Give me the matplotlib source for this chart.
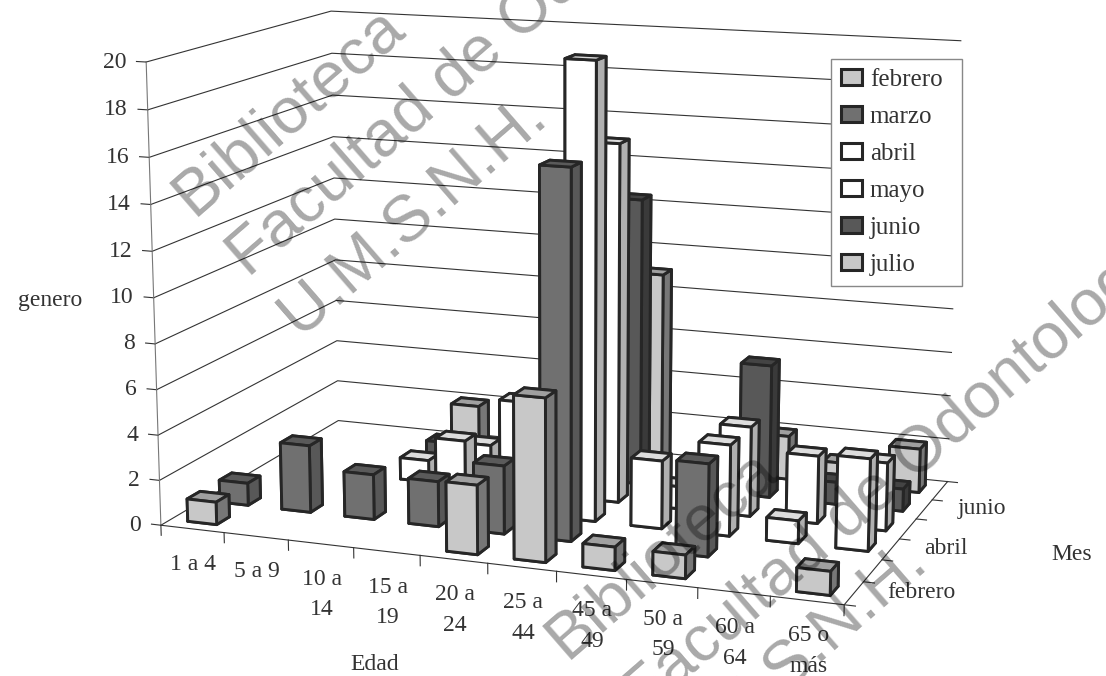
import numpy as np
import matplotlib
matplotlib.use('Agg')
import matplotlib.pyplot as plt
from matplotlib.patches import Patch
from mpl_toolkits.mplot3d import proj3d

edades = ['1 a 4', '5 a 9', '10 a\n14', '15 a\n19', '20 a\n24', '25 a\n44', '45 a\n49', '50 a\n59', '60 a\n64', '65 o\nmás']
meses = ['febrero', 'marzo', 'abril', 'mayo', 'junio', 'julio']
febrero = [1, 0, 0, 0, 3, 7, 1, 1, 0, 1]
marzo = [1, 3, 2, 2, 3, 16, 0, 4, 0, 0]
abril = [0, 0, 0, 3, 5, 20, 3, 4, 1, 4]
mayo = [0, 0, 1, 2, 0, 16, 1, 4, 3, 3]
junio = [0, 0, 1, 0, 0, 13, 0, 6, 1, 1]
julio = [0, 0, 2, 0, 0, 9, 0, 2, 1, 2]
series = [febrero, marzo, abril, mayo, junio, julio]
niveles = list(range(0, 21, 2))
# front, side, top
tonos = [('#c8c8c8', '#777777', '#a0a0a0'), ('#707070', '#585858', '#5a5a5a'), ('#ffffff', '#b0b0b0', '#dddddd'),
         ('#ffffff', '#b0b0b0', '#dddddd'), ('#585858', '#3a3a3a', '#444444'), ('#c8c8c8', '#777777', '#a0a0a0')]

W, H = 1106, 676
tinta = '#333333'
plt.rcParams['font.family'] = 'Liberation Serif'
plt.rcParams['font.size'] = 17
plt.rcParams['text.color'] = tinta

fig = plt.figure(figsize=(W / 100, H / 100), dpi=100)
ax = fig.add_axes([97.46 / W, -71.73 / H, 909.07 / W, 909.07 / H], projection='3d')
ax.set_xlim(0, 10, view_margin=0)
ax.set_ylim(0, 6, view_margin=0)
ax.set_zlim(0, 20, view_margin=0)
ax.view_init(12.458, -69.732)
ax.set_proj_type('persp', focal_length=0.582)
ax.set_box_aspect((1, 0.602, 0.663))
ax.set_axis_off()
ax.computed_zorder = False
M = ax.get_proj()


def rotulo(s, x, y, z, dx, dy, **kw):
    # text anchored on a 3d point, shifted by a few pixels
    px, py, _ = proj3d.proj_transform(x, y, z, M)
    ax.annotate(s, (px, py), xycoords='data', xytext=(dx, dy), textcoords='offset pixels', annotation_clip=False, **kw)


# walls and floor
for z in niveles:
    ax.plot([0, 0, 10], [0, 6, 6], [z, z, z], color=tinta, lw=0.8, zorder=1)
    ax.plot([-0.15, 0], [0, 0], [z, z], color=tinta, lw=0.8, zorder=1)
    rotulo(str(z), 0, 0, z, -20, 0, ha='right', va='center')
ax.plot([0, 0], [0, 0], [0, 20], color='#777777', lw=0.8, zorder=1)
ax.plot([0, 10, 10], [0, 0, 6], [0, 0, 0], color=tinta, lw=0.8, zorder=1)
for i in range(11):
    ax.plot([i, i], [0, 0], [0, -0.45], color=tinta, lw=0.8, zorder=1)
for j in range(7):
    ax.plot([10, 10.15], [j, j], [0, 0], color=tinta, lw=0.8, zorder=1)

for i, e in enumerate(edades):
    rotulo(e, i + 0.5, 0, 0, 1, -25, ha='center', va='top', linespacing=1.6)
for j in (0, 2, 4):
    rotulo(meses[j], 10, j + 0.5, 0, 33, 1, ha='left', va='center')

# bars go back to front, left to right
orden = 2
for j in range(5, -1, -1):
    fr, si, to = tonos[j]
    for i in range(10):
        v = series[j][i]
        if v == 0:
            continue
        # bottom, top, -y, +y, -x, +x
        col = ax.bar3d(i + 0.27, j + 0.3, 0, 0.46, 0.4, v, color=[si, to, fr, si, si, si], shade=False,
                       edgecolor='#262626', linewidth=2.1)
        col.set_zorder(orden)
        orden += 1

fig.text(375 / W, 1 - 665 / H, 'Edad', ha='center', va='center')
fig.text(1072 / W, 1 - 555 / H, 'Mes', ha='center', va='center')
fig.text(50 / W, 1 - 300 / H, 'genero', ha='center', va='center')

marcas = [Patch(facecolor=t[0], edgecolor='#262626', linewidth=2.2) for t in tonos]
fig.legend(marcas, meses, loc='upper left', bbox_to_anchor=(831 / W, 1 - 286 / H, 131 / W, 227 / H), mode='expand',
           borderaxespad=0, frameon=True, fancybox=False, framealpha=1, edgecolor='#888888', fontsize=18,
           labelspacing=0.6, handlelength=0.85, handleheight=0.6, handletextpad=0.3, borderpad=0.4)

# library stamp across the page
sello = dict(family='Liberation Sans', fontsize=47, color='black', alpha=0.34, rotation=41, rotation_mode='anchor',
             ha='left', va='baseline', zorder=10)
fig.text(193 / W, 1 - 217 / H, 'Biblioteca', **sello)
fig.text(248 / W, 1 - 278 / H, 'Facultad de Odontología', **sello)
fig.text(300 / W, 1 - 337 / H, 'U.M.S.N.H.', **sello)
fig.text(566 / W, 1 - 660 / H, 'Biblioteca', **sello)
fig.text(643 / W, 1 - 717 / H, 'Facultad de Odontología', **sello)
fig.text(680 / W, 1 - 782 / H, 'U.M.S.N.H.', **sello)

fig.savefig('out.png', dpi=100)
